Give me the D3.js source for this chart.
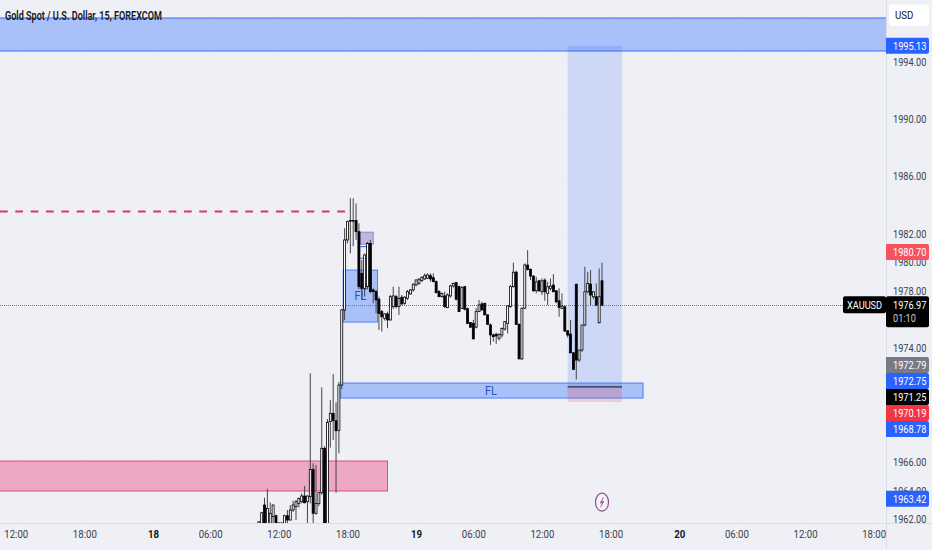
<!DOCTYPE html>
<html>
<head>
<meta charset="utf-8">
<script src="https://cdn.jsdelivr.net/npm/d3@7"></script>
<style>
  html, body { margin: 0; padding: 0; background: #eef0f6; }
  svg { display: block; font-family: Roboto, sans-serif; }
</style>
</head>
<body>
<svg id="chart" width="932" height="550"></svg>
<script>
// 15 minute candles, first one sits on bar 37 counted from the 18th 00:00
const firstBar = 37;
const opens = [1961.6,1961.6,1962.98,1961.6,1961.7,1962.16,1962.23,1961.72,1961.72,1961.65,1962.23,1961.93,1962.63,1962.86,1963.09,1963.21,1963.61,1963.21,1963.56,1965.47,1962.4,1963.09,1963.84,1966.95,1961.6,1968.82,1969.4,1968.88,1968.2,1971.38,
  1976.64,1981.54,1982.85,1982.9,1982.9,1982.12,1979.2,1978.15,1978.27,1981.3,1978.04,1977.92,1977.39,1976.52,1976.05,1976.36,1975.94,1976.87,1977.57,1976.87,
  1977.53,1977.1,1977.46,1977.76,1978.04,1978.39,1978.5,1978.69,1978.81,1978.86,1979.04,1978.9,1978.62,1977.92,1977.57,1977.62,1976.8,1977.62,1978.32,1978.55,1978.27,1976.75,1978.27,1976.73,1975.75,1975.7,1975.43,1976.52,1977.06,
  1977.1,1976.29,1975.59,1974.89,1974.93,1974.65,1974.89,1975.3,1975.7,1976.87,1978.27,1979.28,1975.63,1973.21,1976.76,
  1979.78,1979.48,1979.01,1977.98,1978.68,1977.91,1978.73,1977.8,1978.15,1978.38,1977.98,1977.28,1976.75,1976.86,1975.18,1974.95,1973.64,1978.43,1973.13,1973.83,1975.58,1977.91,1978.45,1977.56,1977.56,1975.74,1978.68];
const highs = [1961.85,1962.5,1963.49,1964.12,1963.16,1963.0,1962.3,1961.76,1961.76,1962.3,1962.63,1962.98,1963.28,1963.33,1963.5,1963.8,1964.31,1963.65,1972.2,1965.9,1965.78,1963.9,1971.22,1967.1,1969.0,1970.33,1972.15,1970.17,1971.6,1976.7,
  1982.36,1982.9,1984.46,1984.46,1984.1,1982.7,1980.14,1980.6,1981.4,1981.54,1978.15,1978.04,1977.57,1976.64,1976.4,1976.52,1977.69,1978.27,1977.69,1978.27,
  1977.69,1977.6,1978.04,1978.1,1978.5,1978.75,1978.86,1979.0,1979.2,1979.2,1979.2,1979.2,1978.7,1978.04,1977.85,1977.92,1977.8,1978.4,1978.55,1978.6,1978.35,1978.3,1978.3,1976.8,1975.8,1975.94,1976.76,1977.34,1977.22,
  1977.15,1976.35,1975.7,1975.0,1975.05,1975.0,1975.4,1975.85,1976.95,1978.39,1979.95,1979.4,1975.7,1976.8,1979.9,
  1980.83,1979.55,1979.08,1978.96,1978.75,1978.85,1978.85,1978.61,1978.85,1979.15,1978.03,1978.15,1977.8,1976.95,1975.23,1975.93,1973.7,1978.5,1973.83,1975.6,1979.66,1979.3,1979.43,1977.95,1978.5,1979.55,1979.95];
const lows = [1961.5,1961.5,1961.5,1961.5,1961.5,1961.7,1961.5,1961.6,1961.6,1961.5,1961.6,1961.9,1962.5,1961.93,1962.8,1963.1,1963.09,1961.6,1963.09,1961.6,1962.3,1962.9,1963.7,1961.5,1961.5,1967.0,1967.53,1963.84,1966.6,1971.1,
  1975.94,1981.3,1980.6,1981.1,1981.54,1978.1,1977.34,1977.57,1978.1,1977.8,1977.1,1976.4,1975.24,1975.12,1975.9,1975.36,1975.89,1976.7,1976.75,1976.29,
  1976.99,1977.0,1977.34,1977.7,1977.92,1978.3,1978.4,1978.6,1978.74,1978.8,1978.62,1978.58,1977.8,1977.53,1977.5,1976.76,1976.76,1977.5,1978.2,1977.3,1976.5,1976.7,1976.6,1975.65,1975.4,1974.59,1975.35,1976.5,1976.59,
  1976.28,1975.6,1974.19,1974.42,1974.26,1974.5,1974.7,1975.2,1975.0,1976.8,1978.2,1975.6,1973.2,1973.15,1976.7,
  1979.4,1978.73,1977.91,1977.8,1977.9,1977.68,1977.28,1976.98,1978.0,1977.9,1977.1,1976.16,1976.7,1975.1,1974.71,1973.6,1972.45,1971.77,1973.0,1973.7,1975.5,1977.8,1976.98,1977.4,1976.9,1975.7,1976.95];
const closes = [1961.8,1962.44,1961.6,1962.74,1962.4,1962.98,1961.6,1961.7,1961.7,1962.23,1961.93,1962.63,1962.98,1963.21,1963.44,1963.61,1963.14,1963.61,1965.47,1962.4,1963.09,1963.84,1966.95,1961.6,1968.77,1969.4,1968.88,1968.18,1971.38,1976.64,
  1981.54,1982.82,1982.9,1982.88,1982.12,1978.27,1978.15,1980.49,1981.3,1977.92,1977.92,1977.34,1976.4,1976.17,1976.36,1975.94,1977.57,1977.62,1976.87,1977.45,
  1977.06,1977.53,1977.92,1978.04,1978.44,1978.74,1978.79,1978.93,1979.04,1979.09,1978.81,1978.62,1977.85,1977.57,1977.8,1976.87,1977.69,1978.32,1978.5,1977.39,1976.52,1978.2,1976.69,1975.7,1975.43,1974.61,1976.52,1976.99,1976.64,
  1976.29,1975.63,1974.89,1974.77,1974.82,1974.93,1975.35,1975.82,1976.92,1978.27,1979.28,1975.63,1973.21,1976.76,1979.79,
  1979.48,1979.01,1977.98,1978.61,1977.98,1978.68,1977.91,1978.26,1978.31,1977.91,1977.21,1976.82,1976.91,1975.16,1974.88,1973.64,1972.47,1973.13,1973.83,1975.58,1977.91,1978.5,1977.68,1977.91,1976.98,1977.56,1976.97];

// axes
const priceTicks = [1994, 1990, 1986, 1982, 1980, 1978, 1974, 1966, 1964, 1962];
const gridPrices = [1994, 1990, 1986, 1982, 1978, 1974, 1970, 1966, 1962];
const timeBars = [-48, -24, 0, 20, 44, 68, 92, 112, 136, 160, 184, 204, 228, 252];
const timeLabels = ['12:00', '18:00', '18', '06:00', '12:00', '18:00', '19', '06:00', '12:00', '18:00', '20', '06:00', '12:00', '18:00'];
const dayLabels = ['18', '19', '20'];

// drawings, all in price / bar units
const supplyZone = [1997.08, 1994.77];
const demandZone = [1966.06, 1963.96];
const demandEnd = 82;
const flBand = [1971.52, 1970.47, 66, 171];
const flBox = [1979.43, 1975.79, 66.5, 78.5];
const purpleBox = [1982.08, 1981.25, 72.5, 77];
const smallLevels = [1981.07, 1980.26, 1978.9, 1978.1];
const smallLevelBars = [72.5, 75];
const positionTop = 1995.13;
const positionEntry = 1971.25;
const positionStop = 1970.19;
const positionBars = [145, 164];
const dashedLevel = 1983.53;
const dashedEnd = 68;
const eventBar = 157;
const eventPrice = 1963.18;

const lastPrice = 1976.97;
const lastLabel = 'XAUUSD';
const countdown = '01:10';
const upperTags = [[1995.13, '#2962ff'], [1980.70, '#f7525f']];
const stackTags = [[1972.79, '#787b86'], [1972.75, '#2962ff'], [1971.25, '#000000'], [1970.19, '#f23645'], [1968.78, '#2962ff']];
const lowerTags = [[1963.42, '#2962ff']];

const W = 932, H = 550, plotW = 886, plotH = 523;
const svg = d3.select('#chart');

const y = d3.scaleLinear().domain([1994, 1962]).range([62, 519]);
const x = d3.scaleLinear().domain([0, 252]).range([153, 873.7]);

// the reference text is a bit squeezed sideways
function squeeze(sel, k) {
  sel.attr('transform', function () {
    const x0 = +this.getAttribute('x') || 0;
    return `translate(${x0},0) scale(${k},1) translate(${-x0},0)`;
  });
}

svg.append('rect').attr('width', W).attr('height', H).attr('fill', '#eef0f6');

svg.append('defs').append('clipPath').attr('id', 'plotClip')
  .append('rect').attr('width', plotW).attr('height', plotH);

const plot = svg.append('g').attr('clip-path', 'url(#plotClip)');

// faint grid
plot.append('g').selectAll('line')
  .data(gridPrices)
  .join('line')
  .attr('x1', 0).attr('x2', plotW)
  .attr('y1', d => Math.round(y(d)) + 0.5).attr('y2', d => Math.round(y(d)) + 0.5)
  .attr('stroke', '#ebedf3');
plot.append('g').selectAll('line')
  .data(timeBars)
  .join('line')
  .attr('x1', d => Math.round(x(d)) + 0.5).attr('x2', d => Math.round(x(d)) + 0.5)
  .attr('y1', 0).attr('y2', plotH)
  .attr('stroke', '#ebedf3');

// zones below the candles
function zone(top, bottom, x0, x1, fill, line) {
  plot.append('rect')
    .attr('x', x0).attr('y', y(top))
    .attr('width', x1 - x0).attr('height', y(bottom) - y(top))
    .attr('fill', fill).attr('stroke', line).attr('stroke-width', 1);
}

zone(supplyZone[0], supplyZone[1], -2, plotW + 2, '#a9c0f8', '#3a6ef5');
zone(demandZone[0], demandZone[1], -2, x(demandEnd), '#eca8c4', '#ea4a82');
zone(flBand[0], flBand[1], x(flBand[2]) - 1, x(flBand[3]) + 1, '#a9c0f8', '#4d7ff5');

// long position box
plot.append('rect')
  .attr('x', x(positionBars[0])).attr('y', y(positionTop))
  .attr('width', x(positionBars[1]) - x(positionBars[0]))
  .attr('height', y(positionEntry) - y(positionTop))
  .attr('fill', '#2962ff').attr('fill-opacity', 0.17);
plot.append('rect')
  .attr('x', x(positionBars[0])).attr('y', y(positionEntry))
  .attr('width', x(positionBars[1]) - x(positionBars[0]))
  .attr('height', y(positionStop) - y(positionEntry))
  .attr('fill', '#f23645').attr('fill-opacity', 0.2);

zone(flBox[0], flBox[1], x(flBox[2]), x(flBox[3]), '#a9c0f8', '#4d7ff5');
zone(purpleBox[0], purpleBox[1], x(purpleBox[2]), x(purpleBox[3]), '#c3b4e2', '#8f88c8');

plot.append('g').selectAll('line')
  .data(smallLevels)
  .join('line')
  .attr('x1', x(smallLevelBars[0])).attr('x2', x(smallLevelBars[1]))
  .attr('y1', d => y(d)).attr('y2', d => y(d))
  .attr('stroke', '#2962ff').attr('stroke-width', 1);

// last price line
plot.append('line')
  .attr('x1', 0).attr('x2', plotW)
  .attr('y1', Math.round(y(lastPrice)) + 0.5).attr('y2', Math.round(y(lastPrice)) + 0.5)
  .attr('stroke', '#777').attr('stroke-width', 1).attr('stroke-dasharray', '1 1');

// candles
const bars = opens.map((o, i) => ({ bar: firstBar + i, o: o, h: highs[i], l: lows[i], c: closes[i] }));

const candles = plot.append('g');
candles.selectAll('line')
  .data(bars)
  .join('line')
  .attr('x1', d => x(d.bar)).attr('x2', d => x(d.bar))
  .attr('y1', d => y(d.h)).attr('y2', d => y(d.l))
  .attr('stroke', '#444').attr('stroke-width', 1);
candles.selectAll('rect')
  .data(bars)
  .join('rect')
  .attr('x', d => x(d.bar) - 1)
  .attr('width', 2)
  .attr('y', d => y(Math.max(d.o, d.c)))
  .attr('height', d => Math.max(0.6, Math.abs(y(d.o) - y(d.c))))
  .attr('fill', d => d.c >= d.o ? '#ffffff' : '#000000')
  .attr('stroke', '#000').attr('stroke-width', 0.8);

// dashed level
plot.append('line')
  .attr('x1', 0).attr('x2', x(dashedEnd))
  .attr('y1', y(dashedLevel)).attr('y2', y(dashedLevel))
  .attr('stroke', '#e8305f').attr('stroke-width', 2).attr('stroke-dasharray', '7.7 7.63');

// entry line of the position
plot.append('line')
  .attr('x1', x(positionBars[0])).attr('x2', x(positionBars[1]))
  .attr('y1', y(positionEntry)).attr('y2', y(positionEntry))
  .attr('stroke', '#2b2b33').attr('stroke-width', 1.2);

// FL labels
plot.append('text')
  .attr('x', (x(flBox[2]) + x(flBox[3])) / 2).attr('y', y((flBox[0] + flBox[1]) / 2) + 4)
  .attr('text-anchor', 'middle').attr('font-size', 12).attr('fill', '#2a50b8')
  .text('FL').call(squeeze, 0.9);
plot.append('text')
  .attr('x', (x(flBand[2]) + x(flBand[3])) / 2 - 1).attr('y', y((flBand[0] + flBand[1]) / 2) + 4)
  .attr('text-anchor', 'middle').attr('font-size', 12).attr('fill', '#2a50b8')
  .text('FL').call(squeeze, 0.9);

// event marker above the time axis
const eventG = plot.append('g')
  .attr('transform', `translate(${x(eventBar)},${y(eventPrice)})`);
eventG.append('ellipse')
  .attr('rx', 6.5).attr('ry', 9)
  .attr('fill', '#f4f4f8').attr('stroke', '#8e4b8c').attr('stroke-width', 1.2);
eventG.append('path')
  .attr('d', 'M1.5,-5 L-2,1 L0.5,0.5 L-1.5,5 L2,-1 L-0.5,-0.5 Z')
  .attr('fill', '#8e4b8c').attr('stroke', '#8e4b8c').attr('stroke-width', 0.4);

// axes
svg.append('line').attr('x1', 0).attr('x2', W).attr('y1', plotH + 0.5).attr('y2', plotH + 0.5)
  .attr('stroke', '#dcdee5');
svg.append('line').attr('x1', plotW + 0.5).attr('x2', plotW + 0.5).attr('y1', 0).attr('y2', H)
  .attr('stroke', '#dcdee5');

const yAxis = d3.axisRight(y).tickValues(priceTicks).tickSize(0).tickPadding(0).tickFormat(d3.format('.2f'));
const yG = svg.append('g').attr('transform', `translate(${plotW + 7},0)`).call(yAxis);
yG.select('.domain').remove();
yG.selectAll('text')
  .attr('font-size', 11.5).attr('font-family', 'Roboto, sans-serif').attr('fill', '#3c3f4a')
  .call(squeeze, 0.8);

const xAxis = d3.axisBottom(x).tickValues(timeBars).tickSize(0).tickPadding(0)
  .tickFormat((d, i) => timeLabels[i]);
const xG = svg.append('g').attr('transform', `translate(0,${plotH + 7})`).call(xAxis);
xG.select('.domain').remove();
xG.selectAll('text')
  .attr('font-size', 11.5).attr('font-family', 'Roboto, sans-serif')
  .attr('font-weight', (d, i) => dayLabels.includes(timeLabels[i]) ? 700 : 400)
  .attr('fill', (d, i) => dayLabels.includes(timeLabels[i]) ? '#131722' : '#3c3f4a')
  .call(squeeze, 0.84);

// price tags on the scale
function tag(yPos, label, color) {
  svg.append('path')
    .attr('d', `M${plotW},${yPos - 8}H927a2,2 0 0 1 2,2V${yPos + 6}a2,2 0 0 1 -2,2H${plotW}Z`)
    .attr('fill', color);
  svg.append('text')
    .attr('x', plotW + 7).attr('y', yPos + 4)
    .attr('font-size', 11.5).attr('fill', '#fff')
    .text(label.toFixed(2)).call(squeeze, 0.8);
}

upperTags.forEach(t => tag(y(t[0]), t[0], t[1]));
lowerTags.forEach(t => tag(y(t[0]), t[0], t[1]));

// tags that would overlap get pushed down, 16px apart
let prevTag = -Infinity;
stackTags.forEach(t => {
  const pos = Math.max(y(t[0]), prevTag + 16);
  tag(pos, t[0], t[1]);
  prevTag = pos;
});

// last price tag, symbol and countdown
const lastY = y(lastPrice);
svg.append('rect').attr('x', 843).attr('y', lastY - 9).attr('width', 43).attr('height', 17).attr('rx', 2).attr('fill', '#000');
svg.append('text').attr('x', 847).attr('y', lastY + 3.5).attr('font-size', 11.5).attr('fill', '#fff')
  .text(lastLabel).call(squeeze, 0.8);
svg.append('rect').attr('x', plotW).attr('y', lastY - 9).attr('width', 43).attr('height', 31).attr('rx', 2).attr('fill', '#000');
svg.append('text').attr('x', plotW + 7).attr('y', lastY + 3.5).attr('font-size', 11.5).attr('fill', '#fff')
  .text(lastPrice.toFixed(2)).call(squeeze, 0.8);
svg.append('text').attr('x', plotW + 7).attr('y', lastY + 17).attr('font-size', 11.5).attr('fill', '#c8c9ce')
  .text(countdown).call(squeeze, 0.8);

// currency button
svg.append('rect').attr('x', 889).attr('y', 4.5).attr('width', 40).attr('height', 21.5).attr('rx', 3).attr('fill', '#fff');
svg.append('text').attr('x', 895).attr('y', 19.5).attr('font-size', 11.5).attr('fill', '#131722')
  .text('USD').call(squeeze, 0.84);

// title
svg.append('text').attr('x', 5).attr('y', 19.5)
  .attr('font-size', 12.5).attr('font-weight', 600).attr('fill', '#131722')
  .text('Gold Spot / U.S. Dollar, 15, FOREXCOM')
  .attr('textLength', 157).attr('lengthAdjust', 'spacingAndGlyphs');
</script>
</body>
</html>
